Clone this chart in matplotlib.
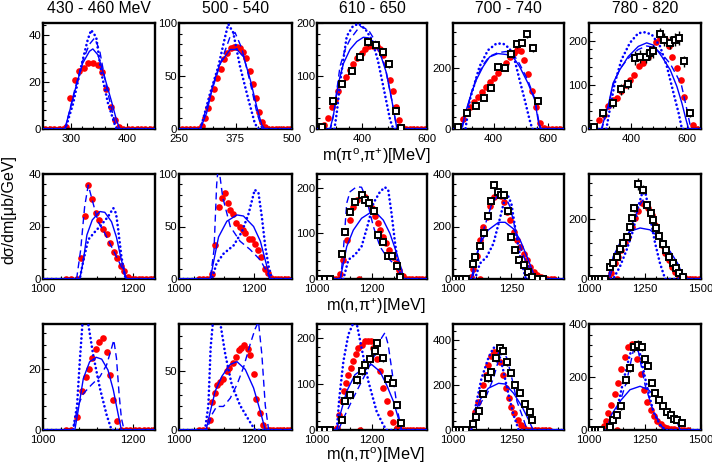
import matplotlib
matplotlib.use('Agg')
import matplotlib.pyplot as plt
from matplotlib.ticker import FixedLocator, AutoMinorLocator

plt.rcParams['font.family'] = ['Liberation Sans', 'DejaVu Sans']
plt.rcParams['mathtext.default'] = 'regular'

##Text##
titles = ['430 - 460 MeV', '500 - 540', '610 - 650', '700 - 740', '780 - 820']
row_labels = ['m(π$^{o}$,π$^{+}$)[MeV]', 'm(n,π$^{+}$)[MeV]', 'm(n,π$^{o}$)[MeV]']
ylabel = 'dσ/dm[μb/GeV]'

##Axis ranges and ticks##
xlims = [[(250, 450), (250, 500), (260, 600), (250, 660), (250, 650)],
         [(1000, 1250), (1000, 1300), (1000, 1400), (1000, 1475), (1000, 1500)],
         [(1000, 1250), (1000, 1300), (1000, 1400), (1000, 1475), (1000, 1500)]]
ylims = [[45, 100, 200, 350, 240],
         [40, 100, 230, 400, 350],
         [35, 90, 230, 470, 400]]
xticks = [[[300, 400], [250, 375, 500], [400, 600], [400, 600], [400, 600]],
          [[1000, 1200], [1000, 1200], [1000, 1200], [1000, 1250], [1000, 1250, 1500]],
          [[1000, 1200], [1000, 1200], [1000, 1200], [1000, 1250], [1000, 1250, 1500]]]
yticks = [[[0, 20, 40], [0, 50, 100], [0, 100, 200], [0, 200], [0, 100, 200]],
          [[0, 20, 40], [0, 50, 100], [0, 100, 200], [0, 200, 400], [0, 200]],
          [[0, 20], [0, 50], [0, 100, 200], [0, 200, 400], [0, 200, 400]]]

##Row 1: m(pi0,pi+)##
r1c1_red = [(253, 0), (262, 0), (270, 0), (278, 0), (286, 0), (291, 1), (299, 13), (308, 21), (315, 24.7),
            (323, 26), (331, 28), (340, 28), (348, 27), (355, 24.4), (363, 17), (371, 9.2), (378, 3.8),
            (385, 1), (393, 0), (401, 0), (409, 0), (417, 0), (425, 0), (433, 0), (441, 0), (449, 0)]
r1c1_solid = [(250, 0), (289, 0), (298, 8), (310, 19), (321, 28), (333, 33), (339, 34), (348, 31.5),
              (360, 22), (372, 12), (381, 4), (387, 0), (450, 0)]
r1c1_dashed = [(250, 0), (290, 0), (292, 2.4), (307, 17), (321, 29), (333, 36), (342, 38.6), (351, 33.6),
               (363, 18), (375, 6), (381, 0), (450, 0)]
r1c1_dotted = [(250, 0), (290, 0), (304, 11), (318, 26.5), (330, 38), (336, 42), (345, 39), (354, 24),
               (366, 11), (378, 2), (382, 0), (450, 0)]

r1c2_red = [(256, 0), (265, 0), (274, 0), (283, 0), (292, 0), (300, 3), (307, 10), (314, 20), (321, 29),
            (328, 38), (335, 48), (342, 57), (350, 66), (357, 72), (364, 76), (371, 77), (378, 77),
            (385, 76), (392, 73), (399, 67), (406, 55), (413, 42), (420, 29), (427, 16), (434, 7),
            (441, 2), (448, 0), (456, 0), (464, 0), (472, 0), (480, 0), (488, 0), (496, 0)]
r1c2_solid = [(250, 0), (297, 0), (311, 15), (326, 43), (341, 62), (363, 75), (378, 75), (393, 68),
              (408, 46), (422, 21), (433, 4), (440, 0), (500, 0)]
r1c2_dashed = [(250, 0), (298, 0), (300, 5), (319, 31), (341, 61), (363, 87), (374, 91), (389, 76),
               (408, 43), (422, 16), (433, 1), (436, 0), (500, 0)]
r1c2_dotted = [(250, 0), (297, 0), (300, 4), (319, 34), (337, 59), (352, 87), (359, 99), (370, 91),
               (385, 59), (404, 27), (418, 5), (426, 0), (500, 0)]

r1c3_red = [(270, 2), (282, 8), (293, 20), (305, 42), (316, 55), (326, 71), (336, 86), (350, 99),
            (362, 112), (372, 122), (385, 134), (398, 143), (408, 150), (422, 156), (434, 157),
            (444, 156), (455, 151), (465, 140), (475, 124), (486, 93), (496, 71), (504, 42), (514, 17),
            (524, 3), (534, 0), (546, 0), (558, 0), (570, 0), (582, 0), (594, 0)]
r1c3_black = [(274, 4, 3), (308, 52, 5), (338, 85, 5), (367, 109, 6), (394, 136, 6), (419, 164, 7),
              (441, 159, 7), (463, 146, 7), (484, 122, 6), (503, 34, 4), (519, 2, 2)]
r1c3_solid = [(260, 0), (300, 0), (310, 23), (326, 86), (342, 124), (362, 150), (383, 165), (403, 173),
              (419, 172), (434, 165), (455, 143), (475, 105), (491, 55), (506, 4), (516, 0), (600, 0)]
r1c3_dashed = [(260, 0), (302, 0), (312, 30), (331, 118), (347, 150), (362, 169), (393, 194), (419, 187),
               (444, 162), (470, 118), (491, 55), (506, 4), (512, 0), (600, 0)]
r1c3_dotted = [(260, 0), (314, 0), (322, 35), (334, 100), (352, 175), (370, 193), (388, 199), (410, 188),
               (430, 168), (448, 130), (465, 80), (486, 17), (496, 0), (600, 0)]

r1c4_red = [(268, 5), (287, 32), (299, 54), (314, 71), (328, 90), (342, 107), (357, 123), (371, 140),
            (385, 156), (400, 170), (416, 184), (431, 200), (447, 219), (462, 238), (475, 252),
            (488, 262), (500, 258), (513, 228), (527, 180), (542, 125), (556, 74), (570, 20), (585, 2),
            (600, 0), (615, 0), (630, 0), (645, 0)]
r1c4_black = [(268, 5, 3), (302, 52, 6), (336, 76, 8), (363, 104, 8), (392, 136, 9), (417, 205, 10),
              (442, 203, 10), (465, 249, 10), (486, 280, 12), (506, 285, 12), (523, 313, 13),
              (546, 266, 12), (564, 93, 8)]
r1c4_solid = [(250, 0), (281, 0), (299, 63), (318, 118), (336, 162), (361, 206), (385, 238), (416, 249),
              (447, 246), (472, 238), (496, 206), (527, 151), (552, 96), (564, 30), (572, 0), (660, 0)]
r1c4_dashed = [(250, 0), (283, 0), (300, 60), (318, 120), (336, 168), (361, 212), (385, 240), (416, 252),
               (447, 256), (472, 248), (496, 215), (527, 160), (552, 100), (566, 30), (575, 0), (660, 0)]
r1c4_dotted = [(250, 0), (296, 0), (312, 96), (330, 151), (348, 206), (379, 260), (410, 282), (435, 282),
               (459, 266), (478, 227), (496, 162), (515, 96), (533, 30), (543, 0), (660, 0)]

r1c5_red = [(267, 4), (286, 20), (303, 32), (318, 51), (336, 66), (351, 71), (366, 85), (382, 100),
            (396, 111), (412, 123), (428, 142), (444, 149), (460, 163), (474, 180), (490, 196),
            (504, 206), (520, 204), (534, 187), (548, 164), (564, 138), (578, 111), (591, 73),
            (606, 39), (621, 9), (636, 0)]
r1c5_black = [(267, 4, 3), (300, 36, 8), (334, 58, 10), (363, 90, 12), (390, 102, 12), (414, 161, 15),
              (432, 164, 15), (452, 164, 15), (468, 172, 15), (480, 176, 15), (502, 214, 15),
              (518, 202, 15), (540, 195, 15), (558, 202, 15), (573, 206, 15), (590, 153, 12), (609, 36, 8)]
r1c5_solid = [(250, 0), (294, 0), (318, 51), (336, 104), (360, 134), (390, 164), (426, 187), (456, 195),
              (480, 190), (510, 164), (540, 134), (564, 96), (582, 58), (597, 20), (606, 0), (650, 0)]
r1c5_dashed = [(250, 0), (296, 0), (318, 48), (336, 100), (360, 136), (390, 160), (426, 180), (456, 188),
               (480, 185), (510, 170), (540, 148), (564, 120), (580, 100), (600, 43), (614, 0), (650, 0)]
r1c5_dotted = [(250, 0), (312, 0), (324, 43), (342, 104), (366, 157), (396, 195), (426, 217), (450, 219),
               (474, 214), (504, 187), (528, 142), (552, 81), (570, 36), (582, 0), (650, 0)]

##Row 2: m(n,pi+)##
r2c1_red = [(1052, 0), (1063, 0), (1075, 0), (1084, 7.9), (1093, 24), (1101, 35.8), (1110, 30.4),
            (1118, 25.3), (1125, 22.5), (1134, 19), (1142, 17), (1149, 13.6), (1158, 10.4), (1166, 8.1),
            (1173, 5), (1181, 3.2), (1190, 0.9), (1198, 0), (1206, 0), (1214, 0), (1222, 0), (1230, 0),
            (1238, 0), (1246, 0)]
r2c1_solid = [(1000, 0), (1082, 0), (1090, 7), (1098, 16.8), (1110, 22.5), (1127, 25.7), (1138, 25.4),
              (1153, 21.8), (1164, 15.9), (1175, 7.2), (1186, 0), (1250, 0)]
r2c1_dashed = [(1000, 0), (1075, 0), (1084, 11), (1093, 27.6), (1101, 35.8), (1110, 30), (1123, 21.8),
               (1138, 17.4), (1153, 12.3), (1164, 8.5), (1175, 4.7), (1186, 0), (1250, 0)]
r2c1_dotted = [(1000, 0), (1082, 0), (1090, 7), (1101, 15), (1116, 18), (1130, 20.6), (1145, 23.7),
               (1157, 27), (1163, 25), (1168, 18.7), (1175, 8.5), (1183, 1), (1186, 0), (1250, 0)]

r2c2_red = [(1054, 0), (1065, 0), (1075, 0), (1087, 4.8), (1096, 32), (1105, 69), (1114, 77.5), (1121, 82),
            (1130, 72), (1136, 66), (1143, 62), (1152, 53), (1161, 50), (1169, 47), (1176, 43.5),
            (1185, 38), (1194, 38), (1202, 33), (1210, 27.6), (1218, 21), (1227, 10), (1236, 6),
            (1245, 0.6), (1254, 0), (1263, 0), (1272, 0), (1281, 0), (1290, 0)]
r2c2_solid = [(1000, 0), (1083, 0), (1091, 15), (1105, 40), (1127, 55), (1154, 61), (1171, 60), (1198, 50),
              (1216, 36), (1229, 18), (1242, 0), (1300, 0)]
r2c2_dashed = [(1000, 0), (1083, 0), (1093, 28), (1100, 90), (1103, 102), (1108, 100), (1116, 78),
               (1136, 50), (1162, 36), (1189, 28), (1216, 18), (1233, 7), (1242, 0), (1300, 0)]
r2c2_dotted = [(1000, 0), (1087, 0), (1100, 15), (1118, 24), (1145, 32), (1167, 45), (1185, 62.5),
               (1201, 85), (1211, 82), (1220, 59), (1229, 31), (1238, 12), (1247, 0), (1300, 0)]

r2c3_red = [(1010, 0), (1022, 0), (1034, 0), (1046, 0), (1058, 0), (1070, 0), (1084, 12), (1096, 42),
            (1108, 85), (1120, 129), (1132, 158), (1147, 174), (1159, 186), (1175, 180), (1187, 169),
            (1199, 155), (1211, 137), (1221, 122), (1229, 107), (1241, 93), (1251, 78), (1263, 64),
            (1275, 49), (1287, 34), (1299, 20), (1311, 7), (1323, 0), (1335, 0), (1347, 0), (1359, 0),
            (1371, 0), (1383, 0), (1395, 0), (1153, 0)]
r2c3_black = [(1012, 0, 0), (1030, 0, 0), (1048, 0, 0), (1090, 55, 6), (1102, 104, 7), (1120, 147, 7),
              (1138, 169, 7), (1162, 184, 8), (1175, 174, 8), (1190, 167, 8), (1208, 150, 7),
              (1221, 96, 7), (1241, 80, 6), (1259, 50, 5), (1274, 50, 5), (1290, 28, 4), (1302, 5, 3)]
r2c3_solid = [(1000, 0), (1084, 0), (1096, 34), (1108, 71), (1132, 107), (1162, 133), (1193, 145),
              (1217, 144), (1241, 129), (1265, 100), (1290, 56), (1308, 20), (1316, 0), (1400, 0)]
r2c3_dashed = [(1000, 0), (1086, 0), (1096, 64), (1108, 166), (1120, 191), (1144, 202), (1162, 201),
               (1181, 173), (1205, 115), (1229, 71), (1253, 49), (1278, 34), (1296, 20), (1314, 0), (1400, 0)]
r2c3_dotted = [(1000, 0), (1096, 0), (1114, 42), (1138, 53), (1162, 71), (1183, 115), (1205, 166),
               (1229, 191), (1247, 201), (1259, 195), (1271, 144), (1284, 78), (1296, 27), (1308, 0), (1400, 0)]

r2c4_red = [(1007, 0), (1022, 0), (1036, 0), (1050, 0), (1065, 0), (1079, 8), (1086, 40), (1101, 87),
            (1115, 147), (1130, 197), (1144, 235), (1159, 279), (1176, 311), (1190, 322), (1205, 318),
            (1219, 292), (1231, 254), (1245, 223), (1259, 179), (1274, 147), (1288, 122), (1303, 97),
            (1317, 72), (1331, 47), (1346, 28), (1360, 15), (1375, 6), (1389, 2), (1404, 0), (1418, 0),
            (1433, 0), (1115, 0)]
r2c4_black = [(1010, 0, 0), (1025, 0, 0), (1040, 0, 0), (1055, 0, 0), (1084, 59, 8), (1094, 82, 9),
              (1115, 125, 10), (1133, 175, 11), (1151, 241, 12), (1163, 296, 13), (1177, 358, 14),
              (1192, 330, 13), (1204, 320, 13), (1218, 321, 13), (1235, 260, 12), (1250, 160, 10),
              (1265, 109, 9), (1281, 72, 8), (1303, 55, 7), (1321, 28, 5), (1340, 9, 4), (1365, 0, 0),
              (1385, 0, 0)]
r2c4_solid = [(1000, 0), (1079, 0), (1094, 72), (1115, 135), (1151, 187), (1195, 216), (1223, 216),
              (1259, 191), (1288, 147), (1317, 84), (1339, 34), (1353, 0), (1475, 0)]
r2c4_dashed = [(1000, 0), (1084, 0), (1101, 84), (1130, 185), (1166, 286), (1195, 323), (1223, 317),
               (1245, 273), (1274, 160), (1303, 84), (1331, 34), (1346, 0), (1475, 0)]
r2c4_dotted = [(1000, 0), (1094, 0), (1115, 59), (1144, 84), (1173, 135), (1202, 235), (1220, 300),
               (1232, 325), (1250, 286), (1270, 172), (1290, 72), (1312, 0), (1475, 0)]

r2c5_red = [(1010, 0), (1025, 0), (1040, 0), (1055, 0), (1070, 0), (1085, 5), (1100, 19), (1115, 52),
            (1130, 75), (1145, 97), (1160, 120), (1175, 140), (1190, 175), (1205, 203), (1220, 226),
            (1235, 254), (1250, 248), (1265, 237), (1280, 214), (1295, 181), (1310, 147), (1325, 114),
            (1340, 86), (1355, 64), (1370, 41), (1385, 25), (1400, 11), (1415, 4), (1430, 2), (1445, 0),
            (1460, 0), (1475, 0), (1490, 0), (1123, 0)]
r2c5_black = [(1010, 0, 0), (1025, 0, 0), (1040, 0, 0), (1055, 0, 0), (1070, 0, 0), (1093, 41, 8),
              (1108, 55, 8), (1123, 75, 9), (1138, 100, 10), (1153, 120, 10), (1168, 140, 11),
              (1183, 175, 12), (1190, 203, 12), (1201, 237, 13), (1220, 315, 20), (1240, 298, 16),
              (1257, 245, 13), (1275, 220, 12), (1287, 198, 12), (1299, 170, 11), (1314, 144, 10),
              (1329, 117, 9), (1344, 97, 9), (1359, 75, 8), (1374, 55, 7), (1389, 36, 6), (1404, 19, 5),
              (1419, 8, 4)]
r2c5_solid = [(1000, 0), (1085, 0), (1108, 75), (1138, 120), (1183, 159), (1228, 170), (1272, 164),
              (1317, 136), (1362, 92), (1400, 47), (1422, 0), (1500, 0)]
r2c5_dashed = [(1000, 0), (1090, 0), (1115, 58), (1160, 120), (1198, 192), (1228, 248), (1243, 265),
               (1257, 254), (1287, 198), (1332, 108), (1377, 41), (1407, 0), (1500, 0)]
r2c5_dotted = [(1000, 0), (1108, 0), (1138, 41), (1168, 97), (1198, 164), (1220, 242), (1240, 293),
               (1254, 281), (1272, 209), (1295, 120), (1317, 52), (1340, 0), (1500, 0)]

##Row 3: m(n,pi0)##
r3c1_red = [(1052, 0), (1063, 0), (1076, 4.2), (1086, 13), (1095, 17.6), (1103, 20.3), (1110, 23.9),
            (1118, 26.6), (1125, 28.9), (1134, 30.3), (1142, 25.9), (1149, 18), (1157, 9.9), (1166, 3),
            (1175, 0), (1185, 0), (1195, 0), (1205, 0), (1215, 0), (1225, 0), (1235, 0), (1245, 0)]
r3c1_solid = [(1000, 0), (1071, 0), (1078, 6), (1090, 17), (1104, 22.5), (1119, 24), (1131, 23.4),
              (1145, 19.8), (1157, 13.2), (1168, 5), (1175, 0), (1250, 0)]
r3c1_dashed = [(1000, 0), (1067, 0), (1078, 8), (1090, 12), (1108, 14.9), (1127, 17.6), (1142, 21.5),
               (1153, 27), (1158, 29.7), (1164, 23.7), (1170, 11.6), (1175, 3.9), (1181, 0), (1250, 0)]
r3c1_dotted = [(1000, 0), (1067, 0), (1076, 8), (1082, 22.5), (1088, 35), (1094, 38), (1101, 35),
               (1112, 24.8), (1127, 13.8), (1142, 5), (1153, 0), (1250, 0)]

r3c2_red = [(1054, 0), (1065, 0), (1074, 0), (1081, 8.6), (1087, 24), (1096, 31), (1102, 38.6), (1109, 41),
            (1118, 43.7), (1127, 50), (1134, 53), (1143, 57), (1152, 62), (1158, 67.7), (1165, 70),
            (1173, 72), (1182, 68.6), (1189, 63.7), (1198, 47.7), (1205, 26.6), (1214, 14.3), (1223, 4.3),
            (1232, 0), (1241, 0), (1250, 0), (1259, 0), (1268, 0), (1277, 0), (1286, 0), (1295, 0)]
r3c2_solid = [(1000, 0), (1072, 0), (1081, 12.9), (1096, 32.9), (1114, 45.7), (1136, 55.7), (1154, 58),
              (1176, 51.4), (1198, 35.7), (1216, 15.7), (1229, 0), (1300, 0)]
r3c2_dashed = [(1000, 0), (1074, 0), (1087, 12.9), (1100, 20), (1118, 20), (1136, 27), (1154, 38.6),
               (1171, 52.9), (1189, 72.9), (1202, 85.7), (1211, 92), (1220, 64), (1229, 21), (1238, 0),
               (1300, 0)]
r3c2_dotted = [(1000, 0), (1069, 0), (1078, 21), (1084, 70), (1091, 95), (1100, 98), (1109, 92),
               (1123, 64), (1140, 38.6), (1162, 21), (1185, 8.6), (1202, 0), (1300, 0)]

r3c3_red = [(1012, 0), (1024, 0), (1036, 0), (1048, 0), (1060, 0), (1072, 4), (1081, 33), (1090, 62),
            (1098, 84), (1105, 102), (1114, 120), (1122, 134), (1132, 149), (1142, 164), (1150, 177),
            (1162, 185), (1175, 193), (1187, 194), (1195, 193), (1205, 178), (1217, 153), (1229, 127),
            (1241, 91), (1253, 62), (1265, 36), (1278, 18), (1290, 4), (1302, 0), (1314, 0), (1326, 0),
            (1338, 0), (1350, 0), (1362, 0), (1374, 0), (1386, 0), (1156, 0)]
r3c3_black = [(1010, 0, 0), (1028, 0, 0), (1046, 0, 0), (1090, 22, 5), (1102, 62, 6), (1120, 75, 7),
              (1144, 109, 10), (1162, 127, 8), (1175, 140, 8), (1193, 154, 8), (1211, 171, 8),
              (1219, 189, 9), (1241, 156, 8), (1259, 111, 7), (1275, 103, 7), (1290, 55, 6), (1304, 15, 4)]
r3c3_solid = [(1000, 0), (1072, 0), (1084, 33), (1108, 84), (1138, 120), (1175, 136), (1199, 142),
              (1229, 127), (1253, 98), (1278, 62), (1296, 25), (1308, 0), (1400, 0)]
r3c3_dashed = [(1000, 0), (1078, 0), (1096, 25), (1120, 55), (1150, 91), (1181, 127), (1211, 164),
               (1235, 200), (1247, 211), (1259, 185), (1278, 105), (1296, 33), (1308, 0), (1400, 0)]
r3c3_dotted = [(1000, 0), (1072, 0), (1081, 69), (1096, 149), (1114, 207), (1132, 232), (1144, 232),
               (1162, 178), (1187, 105), (1217, 40), (1241, 11), (1253, 0), (1400, 0)]

r3c4_red = [(1010, 0), (1025, 0), (1040, 0), (1055, 0), (1070, 0), (1084, 37), (1094, 81), (1105, 126),
            (1118, 163), (1130, 200), (1141, 244), (1151, 289), (1163, 326), (1176, 348), (1187, 348),
            (1202, 303), (1213, 244), (1226, 185), (1238, 141), (1249, 104), (1262, 74), (1277, 44),
            (1291, 22), (1305, 7), (1320, 0), (1335, 0), (1350, 0), (1365, 0), (1380, 0), (1395, 0),
            (1410, 0)]
r3c4_black = [(1010, 0, 0), (1025, 0, 0), (1040, 0, 0), (1055, 0, 0), (1086, 25, 8), (1098, 59, 10),
              (1112, 84, 10), (1130, 158, 12), (1151, 229, 14), (1161, 259, 14), (1184, 318, 16),
              (1202, 365, 17), (1213, 352, 17), (1231, 300, 15), (1249, 252, 14), (1267, 200, 13),
              (1288, 166, 12), (1310, 115, 10), (1329, 78, 9), (1339, 44, 8)]
r3c4_solid = [(1000, 0), (1079, 0), (1094, 67), (1115, 133), (1151, 185), (1195, 207), (1223, 204),
              (1259, 163), (1295, 104), (1324, 44), (1343, 0), (1475, 0)]
r3c4_dashed = [(1000, 0), (1084, 0), (1101, 81), (1122, 126), (1144, 155), (1173, 229), (1195, 311),
               (1213, 351), (1231, 318), (1252, 229), (1274, 126), (1303, 44), (1317, 0), (1475, 0)]
r3c4_dotted = [(1000, 0), (1079, 0), (1098, 111), (1122, 229), (1151, 318), (1173, 365), (1190, 362),
               (1213, 274), (1238, 155), (1259, 67), (1281, 0), (1475, 0)]

r3c5_red = [(1010, 0), (1025, 0), (1040, 0), (1055, 0), (1065, 15), (1075, 35), (1085, 64), (1100, 96),
            (1115, 134), (1130, 178), (1145, 229), (1160, 274), (1175, 312), (1190, 325), (1201, 312),
            (1216, 268), (1230, 210), (1245, 150), (1260, 105), (1275, 75), (1290, 52), (1305, 35),
            (1320, 22), (1335, 13), (1350, 8), (1365, 5), (1380, 3), (1395, 1), (1410, 0), (1425, 0),
            (1440, 0), (1123, 0)]
r3c5_black = [(1010, 0, 0), (1025, 0, 0), (1040, 0, 0), (1055, 0, 0), (1093, 13, 5), (1108, 38, 8),
              (1126, 57, 10), (1145, 89, 12), (1165, 187, 15), (1183, 235, 15), (1201, 312, 18),
              (1220, 322, 18), (1235, 314, 15), (1250, 267, 15), (1265, 241, 12), (1280, 178, 12),
              (1295, 140, 10), (1314, 114, 10), (1329, 89, 8), (1347, 67, 8), (1365, 57, 8),
              (1380, 42, 6), (1395, 38, 6), (1415, 25, 5)]
r3c5_solid = [(1000, 0), (1078, 0), (1100, 57), (1138, 108), (1183, 152), (1228, 165), (1265, 152),
              (1310, 114), (1355, 70), (1392, 32), (1407, 0), (1500, 0)]
r3c5_dashed = [(1000, 0), (1090, 0), (1108, 40), (1140, 110), (1168, 184), (1201, 312), (1220, 298),
               (1250, 171), (1287, 70), (1325, 13), (1347, 0), (1500, 0)]
r3c5_dotted = [(1000, 0), (1093, 0), (1123, 70), (1153, 184), (1183, 286), (1205, 324), (1228, 286),
               (1257, 171), (1287, 70), (1317, 19), (1340, 0), (1500, 0)]

#Panel table (red, black, solid, dashed, dotted):
panels = [[(r1c1_red, None, r1c1_solid, r1c1_dashed, r1c1_dotted),
           (r1c2_red, None, r1c2_solid, r1c2_dashed, r1c2_dotted),
           (r1c3_red, r1c3_black, r1c3_solid, r1c3_dashed, r1c3_dotted),
           (r1c4_red, r1c4_black, r1c4_solid, r1c4_dashed, r1c4_dotted),
           (r1c5_red, r1c5_black, r1c5_solid, r1c5_dashed, r1c5_dotted)],
          [(r2c1_red, None, r2c1_solid, r2c1_dashed, r2c1_dotted),
           (r2c2_red, None, r2c2_solid, r2c2_dashed, r2c2_dotted),
           (r2c3_red, r2c3_black, r2c3_solid, r2c3_dashed, r2c3_dotted),
           (r2c4_red, r2c4_black, r2c4_solid, r2c4_dashed, r2c4_dotted),
           (r2c5_red, r2c5_black, r2c5_solid, r2c5_dashed, r2c5_dotted)],
          [(r3c1_red, None, r3c1_solid, r3c1_dashed, r3c1_dotted),
           (r3c2_red, None, r3c2_solid, r3c2_dashed, r3c2_dotted),
           (r3c3_red, r3c3_black, r3c3_solid, r3c3_dashed, r3c3_dotted),
           (r3c4_red, r3c4_black, r3c4_solid, r3c4_dashed, r3c4_dotted),
           (r3c5_red, r3c5_black, r3c5_solid, r3c5_dashed, r3c5_dotted)]]

##Layout (pixels)##
W, H = 712, 465
col_px = [(43, 155), (179, 292), (317, 427), (453, 564), (589, 701)]
row_px = [(23, 129), (174, 279), (324, 430)]
BLUE = '#0000ff'

def xy(points):
    return [p[0] for p in points], [p[1] for p in points]

fig = plt.figure(figsize=(W / 100, H / 100), dpi=100)

for r in range(3):
    for c in range(5):
        x0, x1 = col_px[c]
        y0, y1 = row_px[r]
        ax = fig.add_axes([x0 / W, 1 - y1 / H, (x1 - x0) / W, (y1 - y0) / H])
        red, black, solid, dashed, dotted = panels[r][c]

        #Data and model curves:
        rx, ry = xy(red)
        ax.plot(rx, ry, 'o', color='#ff0000', markersize=4.8, markeredgewidth=0, zorder=2)
        sx, sy = xy(solid)
        ax.plot(sx, sy, '-', color=BLUE, linewidth=1.0, zorder=3)
        dx, dy = xy(dashed)
        ax.plot(dx, dy, color=BLUE, linewidth=1.0, linestyle=(0, (5, 3)), zorder=3)
        tx, ty = xy(dotted)
        ax.plot(tx, ty, color=BLUE, linewidth=1.9, linestyle=(0, (0.05, 1.6)),
                dash_capstyle='round', zorder=3)
        if black is not None:
            bx = [p[0] for p in black]
            by = [p[1] for p in black]
            be = [p[2] for p in black]
            ax.errorbar(bx, by, yerr=be, fmt='s', mfc='white', mec='black', ecolor='black',
                        markersize=5.0, markeredgewidth=1.4, elinewidth=1.0, capsize=0, zorder=4)

        #Axes style:
        ax.set_xlim(*xlims[r][c])
        ax.set_ylim(0, ylims[r][c])
        ax.xaxis.set_major_locator(FixedLocator(xticks[r][c]))
        ax.yaxis.set_major_locator(FixedLocator(yticks[r][c]))
        ax.xaxis.set_minor_locator(AutoMinorLocator(5))
        ax.yaxis.set_minor_locator(AutoMinorLocator(5))
        ax.tick_params(which='both', direction='in', top=False, right=False, width=0.8)
        ax.tick_params(which='major', length=4, labelsize=8.2)
        ax.tick_params(axis='x', which='major', pad=3.6)
        ax.tick_params(axis='y', which='major', pad=1.2)
        ax.tick_params(which='minor', length=2)
        for sp in ax.spines.values():
            sp.set_linewidth(1.7)

#Titles and labels:
for c in range(5):
    xc = (col_px[c][0] + col_px[c][1]) / 2
    fig.text(xc / W, 1 - 13.3 / H, titles[c], ha='center', va='baseline', fontsize=11.3)
label_base = [161, 311, 460.3]
for r in range(3):
    fig.text(376 / W, 1 - label_base[r] / H, row_labels[r], ha='center', va='baseline', fontsize=11.7)
fig.text(9 / W, 1 - 209 / H, ylabel, ha='center', va='center', rotation=90, fontsize=11.5)

plt.savefig('out.png', dpi=100)
